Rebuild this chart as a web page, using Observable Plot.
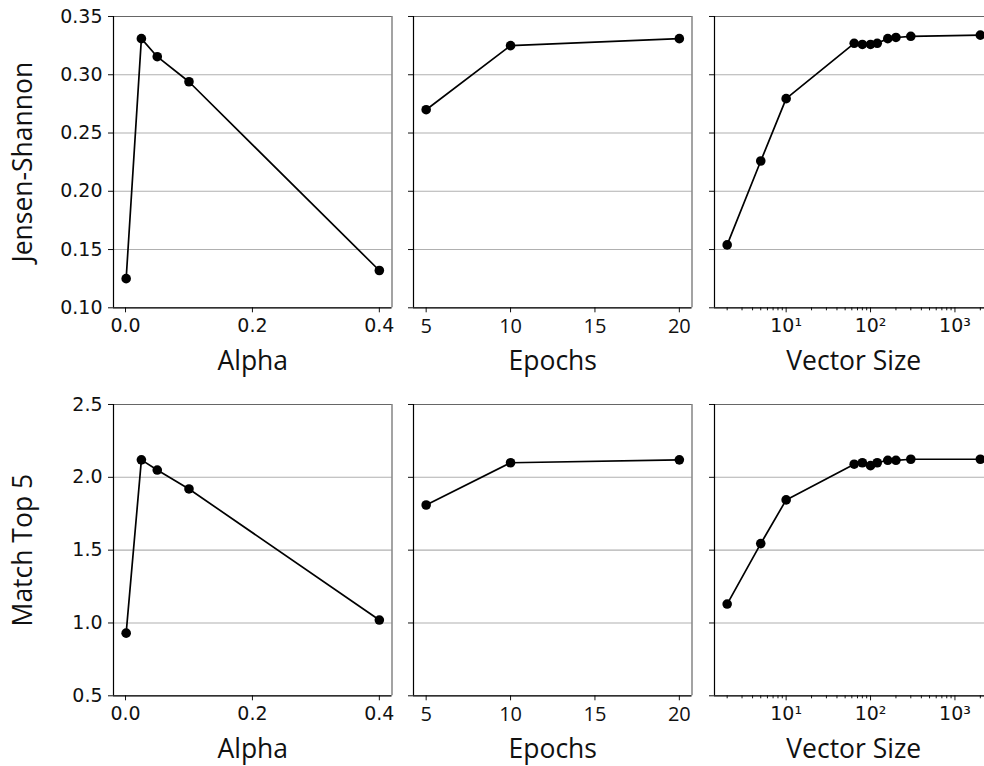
<!DOCTYPE html>
<html><head><meta charset="utf-8">
<script src="https://cdn.jsdelivr.net/npm/d3@7"></script>
<script src="https://cdn.jsdelivr.net/npm/@observablehq/plot@0.6"></script>
<style>
html,body{margin:0;padding:0;background:#fff;overflow:hidden}
#fig{position:relative;width:984px;height:766px;overflow:hidden;background:#fff}
#fig svg{position:absolute;overflow:visible}
</style></head><body><div id="fig"></div>
<script>
// ---- data ----
const alphas = [0.001, 0.025, 0.05, 0.1, 0.4];
const alphaJS = [0.125, 0.331, 0.3155, 0.294, 0.132];
const alphaTop5 = [0.93, 2.12, 2.05, 1.92, 1.02];
const epochs = [5, 10, 20];
const epochJS = [0.270, 0.325, 0.331];
const epochTop5 = [1.81, 2.10, 2.12];
const vectorSizes = [2, 5, 10, 64, 80, 100, 120, 160, 200, 300, 2000];
const vectorJS = [0.154, 0.226, 0.2795, 0.327, 0.326, 0.326, 0.327, 0.331, 0.332, 0.333, 0.334];
const vectorTop5 = [1.13, 1.545, 1.845, 2.09, 2.10, 2.08, 2.10, 2.117, 2.117, 2.124, 2.124];
const rowLabels = ["Jensen-Shannon", "Match Top 5"];
const colLabels = ["Alpha", "Epochs", "Vector Size"];
const jsTicks = [0.10, 0.15, 0.20, 0.25, 0.30, 0.35];
const top5Ticks = [0.5, 1.0, 1.5, 2.0, 2.5];
const alphaTicks = [0.0, 0.2, 0.4];
const epochTicks = [5, 10, 15, 20];
const vectorMajorTicks = [10, 100, 1000];

// ---- layout ----
const frameX = [112.7, 413.3, 714.3];
const frameY = [15.7, 404];
const FW = 278.5, FH = 291.3;

const sup = {1: "\u00b9", 2: "\u00b2", 3: "\u00b3"};
const minorTicks = [];
for (let e = 0; e <= 3; e++) for (let m = 2; m <= 9; m++) minorTicks.push(m * Math.pow(10, e));

const xDefs = [
  {xs: alphas, x: {type: "linear", domain: [-0.01895, 0.41995]}, ticks: alphaTicks, fmt: d3.format(".1f"), tickFont: ["DejaVu Sans", "19px"]},
  {xs: epochs, x: {type: "linear", domain: [4.25, 20.75]}, ticks: epochTicks, fmt: d3.format("d"), tickFont: ["Open Sans", "20px"]},
  {xs: vectorSizes, x: {type: "log", domain: [Math.pow(10, 0.151), Math.pow(10, 3.451)]}, ticks: vectorMajorTicks, fmt: d => "10" + sup[Math.round(Math.log10(d))], tickFont: ["DejaVu Sans", "19px"], log: true}
];
const yDefs = [
  {series: [alphaJS, epochJS, vectorJS], domain: [0.10, 0.35], ticks: jsTicks, fmt: d3.format(".2f")},
  {series: [alphaTop5, epochTop5, vectorTop5], domain: [0.5, 2.5], ticks: top5Ticks, fmt: d3.format(".1f")}
];

function styleText(svg, xd) {
  svg.querySelectorAll("text").forEach(t => {
    const g = t.closest("g[aria-label]");
    const lab = g ? g.getAttribute("aria-label") : "";
    let fam, size;
    if (lab === "x-axis label" || lab === "y-axis label") { fam = "Open Sans"; size = "26.5px"; }
    else if (lab.startsWith("x-axis")) { fam = xd.tickFont[0]; size = xd.tickFont[1]; }
    else { fam = "DejaVu Sans"; size = "19px"; }
    t.style.setProperty("font-family", `"${fam}", sans-serif`, "important");
    t.style.setProperty("font-size", size, "important");
    t.style.setProperty("fill", "#111", "important");
  });
}

const fig = document.getElementById("fig");
for (let r = 0; r < 2; r++) {
  for (let c = 0; c < 3; c++) {
    const xd = xDefs[c], yd = yDefs[r];
    const data = xd.xs.map((x, i) => ({x, y: yd.series[c][i]}));
    const ml = c === 0 ? 112 : 12, mr = 12, mt = 6, mb = 80;
    const marks = [
      Plot.gridY(yd.ticks, {stroke: "#b0b0b0", strokeOpacity: 1, strokeWidth: 1.1}),
      Plot.axisY(yd.ticks, {
        tickSize: 5, tickPadding: 6, color: "#111",
        tickFormat: c === 0 ? yd.fmt : () => "",
        label: c === 0 ? rowLabels[r] : null, labelAnchor: "center", labelArrow: "none", labelOffset: 100
      }),
      Plot.axisX(xd.ticks, {
        tickSize: 5, tickPadding: 6, color: "#111",
        tickFormat: xd.fmt, label: colLabels[c], labelAnchor: "center", labelArrow: "none", labelOffset: 62
      })
    ];
    if (xd.log) marks.push(Plot.axisX(minorTicks.filter(t => t > xd.x.domain[0] && t < xd.x.domain[1]), {tickSize: 3, tickFormat: () => "", label: null, color: "#111"}));
    marks.push(
      Plot.ruleY([yd.domain[1]], {stroke: "#666", strokeWidth: 1.2}),
      Plot.ruleX([xd.x.domain[1]], {stroke: "#666", strokeWidth: 1.2}),
      Plot.ruleY([yd.domain[0]], {stroke: "#000", strokeWidth: 1.2}),
      Plot.ruleX([xd.x.domain[0]], {stroke: "#000", strokeWidth: 1.2}),
      Plot.line(data, {x: "x", y: "y", stroke: "#000", strokeWidth: 1.7}),
      Plot.dot(data, {x: "x", y: "y", r: 4.8, fill: "#000", stroke: "none"})
    );
    const svg = Plot.plot({
      width: ml + FW + mr, height: mt + FH + mb,
      marginLeft: ml, marginRight: mr, marginTop: mt, marginBottom: mb,
      style: {background: "transparent", overflow: "visible"},
      x: {...xd.x}, y: {type: "linear", domain: yd.domain},
      marks
    });
    styleText(svg, xd);
    svg.style.left = (frameX[c] - ml) + "px";
    svg.style.top = (frameY[r] - mt) + "px";
    fig.appendChild(svg);
  }
}
</script></body></html>
